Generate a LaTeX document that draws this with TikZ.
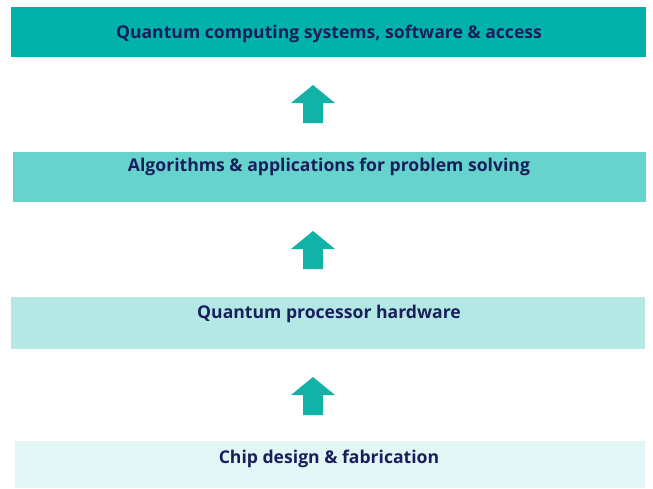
\documentclass[tikz,border=0pt]{standalone}
\usepackage{fontspec}
\setmainfont{Open Sans}
\definecolor{tealA}{HTML}{00B2A9}
\definecolor{tealB}{HTML}{66D3CD}
\definecolor{tealC}{HTML}{B3E8E5}
\definecolor{tealD}{HTML}{E3F6F6}
\definecolor{arrowC}{HTML}{12B2A7}
\definecolor{navy}{HTML}{1A1F5C}
\begin{document}
\begin{tikzpicture}[x=1pt,y=-1pt,
  layer/.style={draw=none,inner sep=0pt,anchor=north west},
  lbl/.style={text=navy,font=\fontsize{17.6}{20}\selectfont\bfseries,inner sep=0pt},
  uparrow/.style={fill=arrowC,draw=none}]
\useasboundingbox (0,0) rectangle (653,488);
\fill[white] (0,0) rectangle (653,488);
\node[layer,fill=tealA,minimum width=635,minimum height=50] (l1) at (11,7) {};
\node[layer,fill=tealB,minimum width=633,minimum height=50] (l2) at (13,152) {};
\node[layer,fill=tealC,minimum width=634,minimum height=52] (l3) at (11,297) {};
\node[layer,fill=tealD,minimum width=630,minimum height=47] (l4) at (15,441) {};
\node[lbl] (t1) at (329,34) {Quantum computing systems, software \& access};
\node[lbl] (t2) at (329,167) {Algorithms \& applications for problem solving};
\node[lbl] (t3) at (329,314) {Quantum processor hardware};
\node[lbl] (t4) at (329,459) {Chip design \& fabrication};
\foreach \n/\y in {a1/85,a2/231,a3/377}{
  \fill[uparrow] (313,\y) -- (335,\y+18) -- (323,\y+18) -- (323,\y+38) -- (303,\y+38) -- (303,\y+18) -- (291,\y+18) -- cycle;
}
\end{tikzpicture}
\end{document}
